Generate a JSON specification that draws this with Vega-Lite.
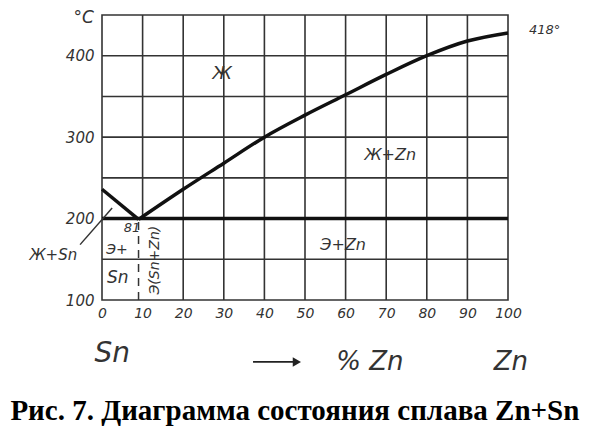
{
  "$schema": "https://vega.github.io/schema/vega-lite/v6.json",
  "width": 406,
  "height": 285,
  "autosize": "none",
  "padding": {"left": 102, "top": 15, "right": 81, "bottom": 129},
  "background": "white",
  "config": {
    "view": {"stroke": "#333", "strokeWidth": 1.6},
    "font": "DejaVu Sans"
  },
  "datasets": {
    "vgrid": [
      {"x": 10, "y1": 199, "y2": 450},
      {"x": 20, "y1": 100, "y2": 450},
      {"x": 30, "y1": 100, "y2": 450},
      {"x": 40, "y1": 100, "y2": 450},
      {"x": 50, "y1": 100, "y2": 450},
      {"x": 60, "y1": 100, "y2": 450},
      {"x": 70, "y1": 100, "y2": 450},
      {"x": 80, "y1": 100, "y2": 450},
      {"x": 90, "y1": 100, "y2": 450}
    ],
    "hgrid": [
      {"y": 150, "x1": 0, "x2": 100},
      {"y": 250, "x1": 0, "x2": 100},
      {"y": 300, "x1": 0, "x2": 100},
      {"y": 350, "x1": 0, "x2": 100},
      {"y": 400, "x1": 0, "x2": 100}
    ],
    "liquidus": [
      {"branch": "Sn", "x": 0, "t": 236},
      {"branch": "Sn", "x": 9, "t": 199},
      {"branch": "Zn", "x": 9, "t": 199},
      {"branch": "Zn", "x": 20, "t": 236},
      {"branch": "Zn", "x": 30, "t": 268},
      {"branch": "Zn", "x": 40, "t": 300},
      {"branch": "Zn", "x": 50, "t": 327},
      {"branch": "Zn", "x": 60, "t": 352},
      {"branch": "Zn", "x": 70, "t": 377},
      {"branch": "Zn", "x": 80, "t": 400},
      {"branch": "Zn", "x": 90, "t": 418},
      {"branch": "Zn", "x": 100, "t": 428}
    ],
    "labels": [
      {"text": "°C", "x": -4.5, "t": 446, "size": 17, "angle": 0},
      {"text": "Ж", "x": 29.6, "t": 377, "size": 18, "angle": 0},
      {"text": "Ж+Zn", "x": 71, "t": 278, "size": 16, "angle": 0},
      {"text": "Э+Zn", "x": 59.4, "t": 167, "size": 16, "angle": 0},
      {"text": "Ж+Sn", "x": -12, "t": 155, "size": 15, "angle": 0},
      {"text": "Э+", "x": 3.7, "t": 161, "size": 14, "angle": 0},
      {"text": "Sn", "x": 3.9, "t": 127, "size": 17, "angle": 0},
      {"text": "81", "x": 7.4, "t": 188, "size": 13, "angle": 0},
      {"text": "Э(Sn+Zn)", "x": 13, "t": 149, "size": 14, "angle": 270},
      {"text": "418°", "x": 109, "t": 431, "size": 13, "angle": 0},
      {"text": "Sn", "x": 2.5, "t": 34, "size": 28, "angle": 0},
      {"text": "% Zn", "x": 66, "t": 24, "size": 26, "angle": 0},
      {"text": "Zn", "x": 100.7, "t": 24, "size": 26, "angle": 0}
    ],
    "caption": [{"text": "Рис. 7. Диаграмма состояния сплава Zn+Sn", "x": 47.5, "t": -47.5}],
    "leader": [{"x": -5.4, "t": 168, "x2": 2.5, "t2": 213}],
    "arrow": [{"x": 37.2, "t": 24, "x2": 47.5, "t2": 24}],
    "arrowhead": [{"x": 48, "t": 24}],
    "eutectic": [{"x": 0, "x2": 100, "t": 200}],
    "dashed": [{"x": 9, "t": 100, "t2": 199}]
  },
  "layer": [
    {
      "data": {"name": "vgrid"},
      "mark": {"type": "rule", "color": "#333", "strokeWidth": 1.6},
      "encoding": {
        "x": {"field": "x", "type": "quantitative", "scale": {"domain": [0, 100], "nice": false, "zero": false},
          "axis": {"values": [0, 10, 20, 30, 40, 50, 60, 70, 80, 90, 100], "title": null, "domain": false, "ticks": false, "grid": false,
            "labelFont": "DejaVu Sans", "labelFontStyle": "italic", "labelFontSize": 14, "labelColor": "#333", "labelPadding": 6, "labelFlush": false}},
        "y": {"field": "y1", "type": "quantitative", "scale": {"domain": [100, 450], "nice": false, "zero": false},
          "axis": {"values": [100, 200, 300, 400], "title": null, "domain": false, "ticks": false, "grid": false,
            "labelFont": "DejaVu Sans", "labelFontStyle": "italic", "labelFontSize": 15, "labelColor": "#333", "labelPadding": 8, "labelFlush": false}},
        "y2": {"field": "y2"}
      }
    },
    {
      "data": {"name": "hgrid"},
      "mark": {"type": "rule", "color": "#333", "strokeWidth": 1.6},
      "encoding": {
        "y": {"field": "y", "type": "quantitative"},
        "x": {"field": "x1", "type": "quantitative"},
        "x2": {"field": "x2"}
      }
    },
    {
      "data": {"name": "eutectic"},
      "mark": {"type": "rule", "color": "#111", "strokeWidth": 3.5},
      "encoding": {
        "y": {"field": "t", "type": "quantitative"},
        "x": {"field": "x", "type": "quantitative"},
        "x2": {"field": "x2"}
      }
    },
    {
      "data": {"name": "dashed"},
      "mark": {"type": "rule", "color": "#333", "strokeWidth": 1.5, "strokeDash": [8, 6]},
      "encoding": {
        "x": {"field": "x", "type": "quantitative"},
        "y": {"field": "t", "type": "quantitative"},
        "y2": {"field": "t2"}
      }
    },
    {
      "data": {"name": "liquidus"},
      "mark": {"type": "line", "color": "#111", "strokeWidth": 3.5, "interpolate": "monotone"},
      "encoding": {
        "x": {"field": "x", "type": "quantitative"},
        "y": {"field": "t", "type": "quantitative"},
        "detail": {"field": "branch"}
      }
    },
    {
      "data": {"name": "leader"},
      "mark": {"type": "rule", "color": "#333", "strokeWidth": 1.5},
      "encoding": {
        "x": {"field": "x", "type": "quantitative"},
        "y": {"field": "t", "type": "quantitative"},
        "x2": {"field": "x2"},
        "y2": {"field": "t2"}
      }
    },
    {
      "data": {"name": "arrow"},
      "mark": {"type": "rule", "color": "#222", "strokeWidth": 1.8},
      "encoding": {
        "x": {"field": "x", "type": "quantitative"},
        "y": {"field": "t", "type": "quantitative"},
        "x2": {"field": "x2"},
        "y2": {"field": "t2"}
      }
    },
    {
      "data": {"name": "arrowhead"},
      "mark": {"type": "point", "shape": "triangle-right", "filled": true, "color": "#222", "size": 90, "opacity": 1},
      "encoding": {
        "x": {"field": "x", "type": "quantitative"},
        "y": {"field": "t", "type": "quantitative"}
      }
    },
    {
      "data": {"name": "labels"},
      "mark": {"type": "text", "font": "DejaVu Sans", "fontStyle": "italic", "color": "#333", "align": "center", "baseline": "middle"},
      "encoding": {
        "x": {"field": "x", "type": "quantitative"},
        "y": {"field": "t", "type": "quantitative"},
        "text": {"field": "text"},
        "size": {"field": "size", "type": "quantitative", "scale": null},
        "angle": {"field": "angle", "type": "quantitative", "scale": null}
      }
    },
    {
      "data": {"name": "caption"},
      "mark": {"type": "text", "font": "Liberation Serif", "fontWeight": "bold", "fontSize": 29, "color": "#000", "align": "center", "baseline": "alphabetic"},
      "encoding": {
        "x": {"field": "x", "type": "quantitative"},
        "y": {"field": "t", "type": "quantitative"},
        "text": {"field": "text"}
      }
    }
  ]
}
